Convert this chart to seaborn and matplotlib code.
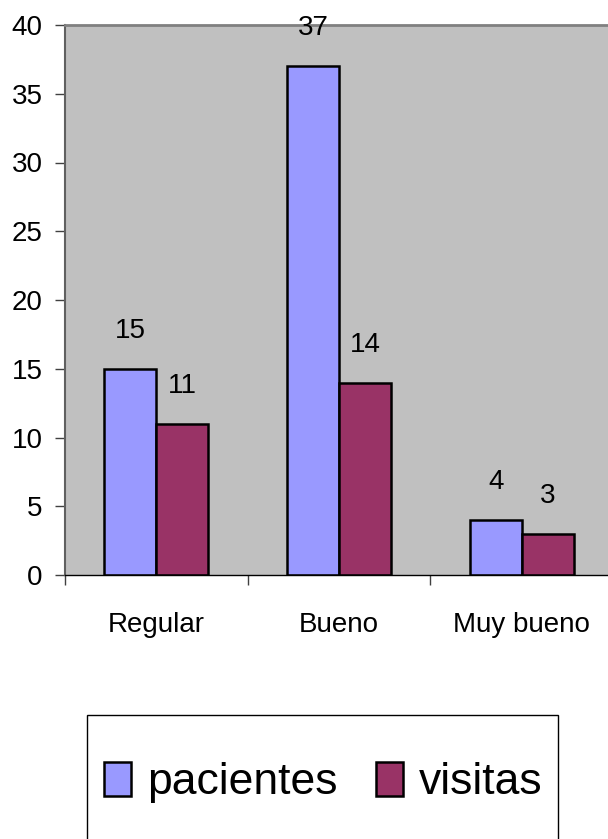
import matplotlib.patches as mpatches
import matplotlib.pyplot as plt
import pandas as pd
import seaborn as sns

# data
categories = ["Regular", "Bueno", "Muy bueno"]
pacientes = [15, 37, 4]
visitas = [11, 14, 3]
series = ["pacientes", "visitas"]
colors = ["#9999FF", "#993366"]
y_ticks = [0, 5, 10, 15, 20, 25, 30, 35, 40]

df = pd.DataFrame({
    "categoria": categories * 2,
    "valor": pacientes + visitas,
    "serie": [series[0]] * len(categories) + [series[1]] * len(categories),
})

sns.set_style("ticks")
plt.rcParams["font.family"] = ["Liberation Sans", "DejaVu Sans"]
plt.rcParams["text.color"] = "black"

fig = plt.figure(figsize=(6.08, 8.39), dpi=100)
ax = fig.add_axes([65 / 608, 264 / 839, 548 / 608, 550 / 839])
ax.set_facecolor("#C0C0C0")

sns.barplot(
    data=df, x="categoria", y="valor", hue="serie",
    palette=colors, saturation=1, width=0.57, errorbar=None,
    edgecolor="black", linewidth=1.8, ax=ax,
)
if ax.get_legend() is not None:
    ax.get_legend().remove()

for cont in ax.containers:
    ax.bar_label(cont, fmt="%d", padding=18, fontsize=20, color="black")

ax.set_xlim(-0.5, 2.5)
ax.set_ylim(0, 40)
ax.set_yticks(y_ticks)
ax.set_xticks([-0.5, 0.5, 1.5, 2.5], labels=["", "", "", ""])
ax.set_xticks(range(len(categories)), labels=categories, minor=True)
ax.tick_params(axis="x", which="major", length=7, width=1, color="#404040")
ax.tick_params(axis="x", which="minor", length=0, pad=27, labelsize=20, labelcolor="black")
ax.tick_params(axis="y", length=7, width=1, color="#404040", pad=9,
               labelsize=20, labelcolor="black")
ax.set_xlabel("")
ax.set_ylabel("")

ax.spines["top"].set_color("#808080")
ax.spines["top"].set_linewidth(2)
ax.spines["left"].set_color("#606060")
ax.spines["left"].set_linewidth(1.5)
ax.spines["bottom"].set_color("black")
ax.spines["bottom"].set_linewidth(1)
ax.spines["right"].set_visible(False)

# legend box below the plot, cut by the bottom edge
frame = mpatches.Rectangle(
    (87 / 608, (839 - 851) / 839), 471 / 608, 136 / 839,
    transform=fig.transFigure, fill=False, edgecolor="black", linewidth=1,
)
fig.add_artist(frame)
handles = [mpatches.Patch(facecolor=c, edgecolor="black", linewidth=1.8, label=s)
           for s, c in zip(series, colors)]
fig.legend(
    handles=handles, loc="center", bbox_to_anchor=(0.532, 0.067), ncol=2,
    frameon=False, fontsize=32, handlelength=0.61, handleheight=0.79,
    handletextpad=0.36, columnspacing=0.86, borderpad=0,
)

fig.savefig("out.png", dpi=100)
